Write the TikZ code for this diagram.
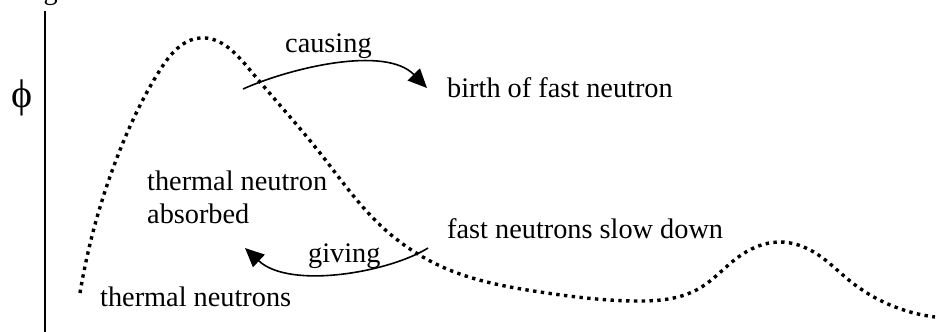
\documentclass[tikz,border=0pt]{standalone}
\usepackage{fontspec}
\setmainfont{Liberation Serif}
\usetikzlibrary{arrows.meta,hobby}
\begin{document}
\begin{tikzpicture}[x=1pt,y=-1pt,
  lbl/.style={anchor=base west,inner sep=0pt,font=\fontsize{28.3}{33}\selectfont},
  arr/.style={line width=1.6pt,-{Triangle[length=19pt,width=17pt]}},
  dots/.style={line width=3.4pt,dash pattern=on 3.4pt off 4.4pt},
  axis/.style={line width=1.8pt}]
\useasboundingbox (0,0) rectangle (938,332);
\begin{scope}
\clip (0,0) rectangle (938,332);
\node[lbl] (top) at (5,0) {n figure 32.};
\end{scope}
\coordinate (axtop) at (45,11);
\coordinate (axbot) at (45,332);
\draw[axis] (axtop) -- (axbot);
\node[inner sep=0pt,font=\fontsize{40}{44}\selectfont] (phi) at (22,98) {ϕ};
\node[lbl] (causing) at (285,52) {causing};
\node[lbl] (birth) at (447,97) {birth of fast neutron};
\node[lbl] (tn) at (147,190) {thermal neutron};
\node[lbl] (abs) at (147,223) {absorbed};
\node[lbl] (giving) at (308,262) {giving};
\node[lbl] (fast) at (447,238) {fast neutrons slow down};
\node[lbl] (thermal) at (100,306) {thermal neutrons};
\draw[dots,use Hobby shortcut] (80,293) .. (120,150) .. (160,70) .. (200,38) .. (250,70) .. (320,153) .. (380,225) .. (447,269) .. (540,292) .. (633,301) .. (700,288) .. (737,258) .. (779,242) .. (817,254) .. (850,281) .. (935,317);
\coordinate (c1) at (243,89);
\coordinate (c2) at (427,88);
\draw[arr] (c1) .. controls (290,68) and (385,45) .. (c2);
\coordinate (g1) at (428,248);
\coordinate (g2) at (245,248);
\draw[arr] (g1) .. controls (390,272) and (290,290) .. (g2);
\end{tikzpicture}
\end{document}
